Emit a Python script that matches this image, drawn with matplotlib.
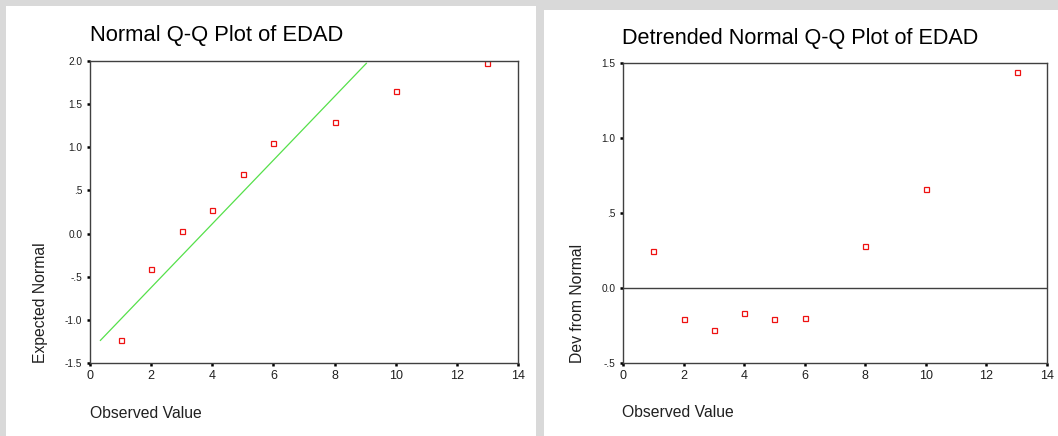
import matplotlib.pyplot as plt
from matplotlib.patches import Rectangle

plt.rcParams['font.family'] = ['Liberation Sans', 'DejaVu Sans']

# observed values (EDAD)
observed = [1, 2, 3, 4, 5, 6, 8, 10, 13]
# expected normal values
expected = [-1.234, -0.408, 0.032, 0.275, 0.688, 1.047, 1.294, 1.653, 1.973]
# detrended deviations
deviation = [0.248, -0.208, -0.281, -0.164, -0.208, -0.199, 0.283, 0.659, 1.438]
# reference line ends
line_x = [0.34, 9.04]
line_y = [-1.238, 1.973]

left_yticks = [2.0, 1.5, 1.0, 0.5, 0.0, -0.5, -1.0, -1.5]
left_ylabels = ['2.0', '1.5', '1.0', '.5', '0.0', '-.5', '-1.0', '-1.5']
right_yticks = [1.5, 1.0, 0.5, 0.0, -0.5]
right_ylabels = ['1.5', '1.0', '.5', '0.0', '-.5']
xticks = [0, 2, 4, 6, 8, 10, 12, 14]

W, H = 1058, 436
fig = plt.figure(figsize=(W / 100, H / 100), dpi=100)
fig.patch.set_facecolor('#d9d9d9')

# white panels behind the plots
fig.patches.append(Rectangle((6 / W, 0), 530 / W, 1 - 6 / H, transform=fig.transFigure,
                             facecolor='white', edgecolor='none', zorder=-10))
fig.patches.append(Rectangle((544 / W, 0), (W - 544) / W, 1 - 10 / H, transform=fig.transFigure,
                             facecolor='white', edgecolor='none', zorder=-10))


def px_axes(x0, x1, top, bottom):
    ax = fig.add_axes([x0 / W, 1 - bottom / H, (x1 - x0) / W, (bottom - top) / H])
    ax.set_zorder(5)
    return ax


def style(ax, yticks, ylabels, ymin, ymax):
    ax.set_xlim(0, 14)
    ax.set_ylim(ymin, ymax)
    ax.set_xticks(xticks)
    ax.set_xticklabels([str(t) for t in xticks])
    ax.set_yticks(yticks)
    ax.set_yticklabels(ylabels)
    for s in ax.spines.values():
        s.set_color('#404040')
        s.set_linewidth(1.0)
    ax.tick_params(direction='out', length=2.5, width=1.8, color='black',
                   labelcolor='#202020', pad=3)
    ax.tick_params(axis='x', labelsize=9, pad=2.5)
    ax.tick_params(axis='y', labelsize=7.3, pad=3)
    ax.set_facecolor('white')


ax1 = px_axes(90, 518, 61, 363)
ax1.plot(line_x, line_y, color='#55e04a', lw=0.9)
ax1.plot(observed, expected, 's', ms=3.6, mfc='none', mec='#ee1111', mew=0.9)
style(ax1, left_yticks, left_ylabels, -1.5, 2.0)

ax2 = px_axes(623, 1047, 63, 363)
ax2.axhline(0, color='#404040', lw=1.0)
ax2.plot(observed, deviation, 's', ms=3.6, mfc='none', mec='#ee1111', mew=0.9)
style(ax2, right_yticks, right_ylabels, -0.5, 1.5)

fig.text(90 / W, 1 - 41 / H, 'Normal Q-Q Plot of EDAD', fontsize=15.8, ha='left', va='baseline')
fig.text(622 / W, 1 - 44 / H, 'Detrended Normal Q-Q Plot of EDAD', fontsize=15.6, ha='left', va='baseline')

fig.text(40 / W, 1 - 363 / H, 'Expected Normal', fontsize=11.3, rotation=90,
         ha='center', va='bottom', color='#202020')
fig.text(577 / W, 1 - 363 / H, 'Dev from Normal', fontsize=11.3, rotation=90,
         ha='center', va='bottom', color='#202020')
fig.text(90 / W, 1 - 413 / H, 'Observed Value', fontsize=11.3, ha='left', va='center', color='#202020')
fig.text(622 / W, 1 - 412 / H, 'Observed Value', fontsize=11.3, ha='left', va='center', color='#202020')

plt.savefig('out.png', dpi=100, facecolor=fig.get_facecolor())
